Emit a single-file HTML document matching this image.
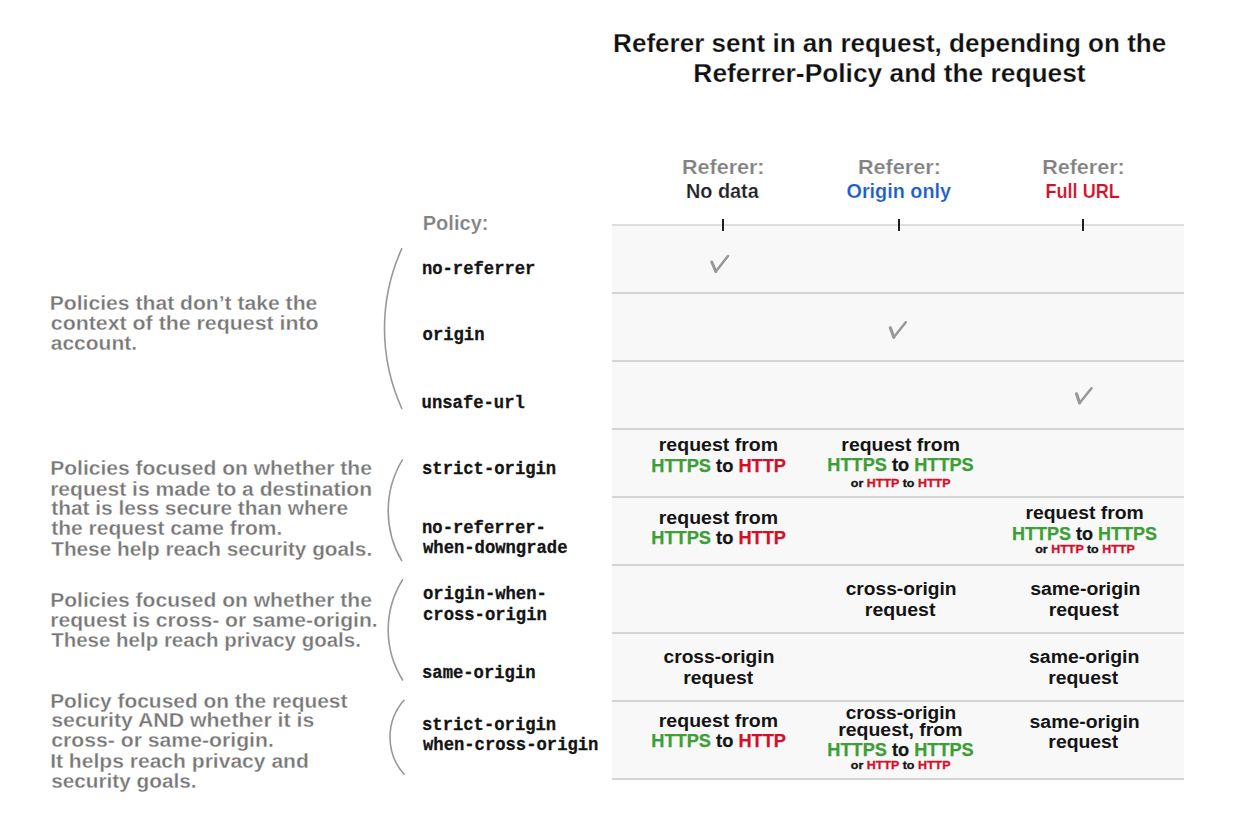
<!DOCTYPE html>
<html><head><meta charset="utf-8"><title>Referrer-Policy</title>
<style>html,body{margin:0;padding:0;background:#fff;overflow:hidden}svg{display:block}</style></head>
<body><svg width="1246" height="836" viewBox="0 0 1246 836">
<rect width="1246" height="836" fill="#ffffff"/>
<rect x="612" y="224" width="572" height="556" fill="#f8f8f8"/>
<rect x="612" y="224" width="572" height="2" fill="#dedede"/>
<rect x="612" y="292" width="572" height="2" fill="#d4d4d4"/>
<rect x="612" y="360" width="572" height="2" fill="#d4d4d4"/>
<rect x="612" y="428" width="572" height="2" fill="#d4d4d4"/>
<rect x="612" y="496" width="572" height="2" fill="#d4d4d4"/>
<rect x="612" y="564" width="572" height="2" fill="#d4d4d4"/>
<rect x="612" y="632" width="572" height="2" fill="#d4d4d4"/>
<rect x="612" y="700" width="572" height="2" fill="#d4d4d4"/>
<rect x="612" y="778" width="572" height="2" fill="#d4d4d4"/>
<rect x="722" y="219" width="2" height="12" fill="#202020"/>
<rect x="898" y="219" width="2" height="12" fill="#202020"/>
<rect x="1082" y="219" width="2" height="12" fill="#202020"/>
<path d="M402.00 248.20 A193.44 193.44 0 0 0 402.00 409.00" fill="none" stroke="#999999" stroke-width="1.6"/>
<path d="M402.70 459.30 A98.82 98.82 0 0 0 402.00 561.20" fill="none" stroke="#999999" stroke-width="1.6"/>
<path d="M402.90 579.20 A94.61 94.61 0 0 0 402.90 680.50" fill="none" stroke="#999999" stroke-width="1.6"/>
<path d="M404.40 699.70 A56.03 56.03 0 0 0 404.40 774.70" fill="none" stroke="#999999" stroke-width="1.6"/>
<path d="M711.8 262.0 L715.8 271.5" fill="none" stroke="#979797" stroke-width="3.1" stroke-linecap="round"/><path d="M715.8 271.5 L728.0 256.0" fill="none" stroke="#979797" stroke-width="2.5" stroke-linecap="round"/>
<path d="M890.3 327.8 L893.8 337.3" fill="none" stroke="#979797" stroke-width="3.1" stroke-linecap="round"/><path d="M893.8 337.3 L905.8 322.2" fill="none" stroke="#979797" stroke-width="2.5" stroke-linecap="round"/>
<path d="M1076.5 393.8 L1079.6 403.0" fill="none" stroke="#979797" stroke-width="3.1" stroke-linecap="round"/><path d="M1079.6 403.0 L1091.5 388.3" fill="none" stroke="#979797" stroke-width="2.5" stroke-linecap="round"/>
<text x="613.10" y="51.70" font-family="'Liberation Sans', sans-serif" font-weight="bold" font-size="26" textLength="553.16" lengthAdjust="spacingAndGlyphs" stroke="#ffffff" stroke-width="0.25"><tspan fill="#101010">Referer sent in an request, depending on the</tspan></text>
<text x="693.39" y="81.50" font-family="'Liberation Sans', sans-serif" font-weight="bold" font-size="26" textLength="392.27" lengthAdjust="spacingAndGlyphs" stroke="#ffffff" stroke-width="0.25"><tspan fill="#101010">Referrer-Policy and the request</tspan></text>
<text x="681.97" y="173.60" font-family="'Liberation Sans', sans-serif" font-weight="bold" font-size="21" textLength="82.57" lengthAdjust="spacingAndGlyphs" stroke="#ffffff" stroke-width="0.2"><tspan fill="#828282">Referer:</tspan></text>
<text x="685.95" y="197.70" font-family="'Liberation Sans', sans-serif" font-weight="bold" font-size="21" textLength="72.84" lengthAdjust="spacingAndGlyphs" stroke="#ffffff" stroke-width="0.2"><tspan fill="#222222">No data</tspan></text>
<text x="857.97" y="173.60" font-family="'Liberation Sans', sans-serif" font-weight="bold" font-size="21" textLength="82.88" lengthAdjust="spacingAndGlyphs" stroke="#ffffff" stroke-width="0.2"><tspan fill="#828282">Referer:</tspan></text>
<text x="846.50" y="197.80" font-family="'Liberation Sans', sans-serif" font-weight="bold" font-size="21" textLength="104.50" lengthAdjust="spacingAndGlyphs" stroke="#ffffff" stroke-width="0.2"><tspan fill="#1b5ccc">Origin only</tspan></text>
<text x="1042.17" y="173.60" font-family="'Liberation Sans', sans-serif" font-weight="bold" font-size="21" textLength="82.57" lengthAdjust="spacingAndGlyphs" stroke="#ffffff" stroke-width="0.2"><tspan fill="#828282">Referer:</tspan></text>
<text x="1045.44" y="197.70" font-family="'Liberation Sans', sans-serif" font-weight="bold" font-size="21" textLength="74.41" lengthAdjust="spacingAndGlyphs" stroke="#ffffff" stroke-width="0.2"><tspan fill="#d3102a">Full URL</tspan></text>
<text x="422.74" y="229.60" font-family="'Liberation Sans', sans-serif" font-weight="bold" font-size="21" textLength="65.76" lengthAdjust="spacingAndGlyphs" stroke="#ffffff" stroke-width="0.2"><tspan fill="#828282">Policy:</tspan></text>
<text x="421.92" y="273.60" font-family="'Liberation Mono', monospace" font-weight="bold" font-size="17.5" textLength="113.51" lengthAdjust="spacingAndGlyphs" stroke="#141414" stroke-width="0.3"><tspan fill="#141414">no-referrer</tspan></text>
<text x="422.60" y="339.50" font-family="'Liberation Mono', monospace" font-weight="bold" font-size="17.5" textLength="61.92" lengthAdjust="spacingAndGlyphs" stroke="#141414" stroke-width="0.3"><tspan fill="#141414">origin</tspan></text>
<text x="421.62" y="407.70" font-family="'Liberation Mono', monospace" font-weight="bold" font-size="17.5" textLength="103.19" lengthAdjust="spacingAndGlyphs" stroke="#141414" stroke-width="0.3"><tspan fill="#141414">unsafe-url</tspan></text>
<text x="422.02" y="473.90" font-family="'Liberation Mono', monospace" font-weight="bold" font-size="17.5" textLength="134.15" lengthAdjust="spacingAndGlyphs" stroke="#141414" stroke-width="0.3"><tspan fill="#141414">strict-origin</tspan></text>
<text x="422.02" y="533.20" font-family="'Liberation Mono', monospace" font-weight="bold" font-size="17.5" textLength="123.83" lengthAdjust="spacingAndGlyphs" stroke="#141414" stroke-width="0.3"><tspan fill="#141414">no-referrer-</tspan></text>
<text x="423.00" y="553.00" font-family="'Liberation Mono', monospace" font-weight="bold" font-size="17.5" textLength="144.47" lengthAdjust="spacingAndGlyphs" stroke="#141414" stroke-width="0.3"><tspan fill="#141414">when-downgrade</tspan></text>
<text x="423.00" y="599.40" font-family="'Liberation Mono', monospace" font-weight="bold" font-size="17.5" textLength="123.83" lengthAdjust="spacingAndGlyphs" stroke="#141414" stroke-width="0.3"><tspan fill="#141414">origin-when-</tspan></text>
<text x="423.00" y="619.80" font-family="'Liberation Mono', monospace" font-weight="bold" font-size="17.5" textLength="123.83" lengthAdjust="spacingAndGlyphs" stroke="#141414" stroke-width="0.3"><tspan fill="#141414">cross-origin</tspan></text>
<text x="422.02" y="678.00" font-family="'Liberation Mono', monospace" font-weight="bold" font-size="17.5" textLength="113.51" lengthAdjust="spacingAndGlyphs" stroke="#141414" stroke-width="0.3"><tspan fill="#141414">same-origin</tspan></text>
<text x="422.02" y="729.70" font-family="'Liberation Mono', monospace" font-weight="bold" font-size="17.5" textLength="134.15" lengthAdjust="spacingAndGlyphs" stroke="#141414" stroke-width="0.3"><tspan fill="#141414">strict-origin</tspan></text>
<text x="423.00" y="750.10" font-family="'Liberation Mono', monospace" font-weight="bold" font-size="17.5" textLength="175.43" lengthAdjust="spacingAndGlyphs" stroke="#141414" stroke-width="0.3"><tspan fill="#141414">when-cross-origin</tspan></text>
<text x="49.77" y="309.80" font-family="'Liberation Sans', sans-serif" font-weight="bold" font-size="20.5" textLength="267.54" lengthAdjust="spacingAndGlyphs" stroke="#ffffff" stroke-width="0.3"><tspan fill="#777777">Policies that don’t take the</tspan></text>
<text x="50.80" y="330.30" font-family="'Liberation Sans', sans-serif" font-weight="bold" font-size="20.5" textLength="267.84" lengthAdjust="spacingAndGlyphs" stroke="#ffffff" stroke-width="0.3"><tspan fill="#777777">context of the request into</tspan></text>
<text x="50.80" y="350.00" font-family="'Liberation Sans', sans-serif" font-weight="bold" font-size="20.5" textLength="86.21" lengthAdjust="spacingAndGlyphs" stroke="#ffffff" stroke-width="0.3"><tspan fill="#777777">account.</tspan></text>
<text x="50.17" y="475.30" font-family="'Liberation Sans', sans-serif" font-weight="bold" font-size="20.5" textLength="321.74" lengthAdjust="spacingAndGlyphs" stroke="#ffffff" stroke-width="0.3"><tspan fill="#777777">Policies focused on whether the</tspan></text>
<text x="50.17" y="495.50" font-family="'Liberation Sans', sans-serif" font-weight="bold" font-size="20.5" textLength="321.86" lengthAdjust="spacingAndGlyphs" stroke="#ffffff" stroke-width="0.3"><tspan fill="#777777">request is made to a destination</tspan></text>
<text x="51.20" y="515.20" font-family="'Liberation Sans', sans-serif" font-weight="bold" font-size="20.5" textLength="296.81" lengthAdjust="spacingAndGlyphs" stroke="#ffffff" stroke-width="0.3"><tspan fill="#777777">that is less secure than where</tspan></text>
<text x="51.20" y="535.10" font-family="'Liberation Sans', sans-serif" font-weight="bold" font-size="20.5" textLength="231.11" lengthAdjust="spacingAndGlyphs" stroke="#ffffff" stroke-width="0.3"><tspan fill="#777777">the request came from.</tspan></text>
<text x="51.20" y="556.20" font-family="'Liberation Sans', sans-serif" font-weight="bold" font-size="20.5" textLength="321.00" lengthAdjust="spacingAndGlyphs" stroke="#ffffff" stroke-width="0.3"><tspan fill="#777777">These help reach security goals.</tspan></text>
<text x="50.17" y="606.90" font-family="'Liberation Sans', sans-serif" font-weight="bold" font-size="20.5" textLength="321.74" lengthAdjust="spacingAndGlyphs" stroke="#ffffff" stroke-width="0.3"><tspan fill="#777777">Policies focused on whether the</tspan></text>
<text x="50.17" y="627.10" font-family="'Liberation Sans', sans-serif" font-weight="bold" font-size="20.5" textLength="327.55" lengthAdjust="spacingAndGlyphs" stroke="#ffffff" stroke-width="0.3"><tspan fill="#777777">request is cross- or same-origin.</tspan></text>
<text x="51.20" y="646.80" font-family="'Liberation Sans', sans-serif" font-weight="bold" font-size="20.5" textLength="309.70" lengthAdjust="spacingAndGlyphs" stroke="#ffffff" stroke-width="0.3"><tspan fill="#777777">These help reach privacy goals.</tspan></text>
<text x="50.18" y="707.50" font-family="'Liberation Sans', sans-serif" font-weight="bold" font-size="20.5" textLength="297.24" lengthAdjust="spacingAndGlyphs" stroke="#ffffff" stroke-width="0.3"><tspan fill="#777777">Policy focused on the request</tspan></text>
<text x="51.20" y="727.10" font-family="'Liberation Sans', sans-serif" font-weight="bold" font-size="20.5" textLength="263.12" lengthAdjust="spacingAndGlyphs" stroke="#ffffff" stroke-width="0.3"><tspan fill="#777777">security AND whether it is</tspan></text>
<text x="51.20" y="747.40" font-family="'Liberation Sans', sans-serif" font-weight="bold" font-size="20.5" textLength="222.62" lengthAdjust="spacingAndGlyphs" stroke="#ffffff" stroke-width="0.3"><tspan fill="#777777">cross- or same-origin.</tspan></text>
<text x="50.17" y="767.90" font-family="'Liberation Sans', sans-serif" font-weight="bold" font-size="20.5" textLength="258.66" lengthAdjust="spacingAndGlyphs" stroke="#ffffff" stroke-width="0.3"><tspan fill="#777777">It helps reach privacy and</tspan></text>
<text x="51.20" y="787.50" font-family="'Liberation Sans', sans-serif" font-weight="bold" font-size="20.5" textLength="145.40" lengthAdjust="spacingAndGlyphs" stroke="#ffffff" stroke-width="0.3"><tspan fill="#777777">security goals.</tspan></text>
<text x="658.79" y="451.20" font-family="'Liberation Sans', sans-serif" font-weight="bold" font-size="17.5" textLength="119.24" lengthAdjust="spacingAndGlyphs"><tspan fill="#141414">request from</tspan></text>
<text x="651.21" y="471.70" font-family="'Liberation Sans', sans-serif" font-weight="bold" font-size="18.5" textLength="134.82" lengthAdjust="spacingAndGlyphs" stroke-width="0.25"><tspan fill="#3c9f36" stroke="#3c9f36">HTTPS</tspan><tspan fill="#141414" stroke="#141414"> to </tspan><tspan fill="#d3102a" stroke="#d3102a">HTTP</tspan></text>
<text x="841.39" y="451.20" font-family="'Liberation Sans', sans-serif" font-weight="bold" font-size="17.5" textLength="118.53" lengthAdjust="spacingAndGlyphs"><tspan fill="#141414">request from</tspan></text>
<text x="827.32" y="471.30" font-family="'Liberation Sans', sans-serif" font-weight="bold" font-size="18.5" textLength="146.42" lengthAdjust="spacingAndGlyphs" stroke-width="0.25"><tspan fill="#3c9f36" stroke="#3c9f36">HTTPS</tspan><tspan fill="#141414" stroke="#141414"> to </tspan><tspan fill="#3c9f36" stroke="#3c9f36">HTTPS</tspan></text>
<text x="850.80" y="487.40" font-family="'Liberation Sans', sans-serif" font-weight="bold" font-size="11.5" textLength="99.74" lengthAdjust="spacingAndGlyphs" stroke-width="0.3"><tspan fill="#141414" stroke="#141414">or </tspan><tspan fill="#d3102a" stroke="#d3102a">HTTP</tspan><tspan fill="#141414" stroke="#141414"> to </tspan><tspan fill="#d3102a" stroke="#d3102a">HTTP</tspan></text>
<text x="658.79" y="523.50" font-family="'Liberation Sans', sans-serif" font-weight="bold" font-size="17.5" textLength="119.24" lengthAdjust="spacingAndGlyphs"><tspan fill="#141414">request from</tspan></text>
<text x="651.21" y="543.60" font-family="'Liberation Sans', sans-serif" font-weight="bold" font-size="18.5" textLength="134.82" lengthAdjust="spacingAndGlyphs" stroke-width="0.25"><tspan fill="#3c9f36" stroke="#3c9f36">HTTPS</tspan><tspan fill="#141414" stroke="#141414"> to </tspan><tspan fill="#d3102a" stroke="#d3102a">HTTP</tspan></text>
<text x="1025.49" y="519.10" font-family="'Liberation Sans', sans-serif" font-weight="bold" font-size="17.5" textLength="118.33" lengthAdjust="spacingAndGlyphs"><tspan fill="#141414">request from</tspan></text>
<text x="1012.03" y="539.60" font-family="'Liberation Sans', sans-serif" font-weight="bold" font-size="18.5" textLength="144.90" lengthAdjust="spacingAndGlyphs" stroke-width="0.25"><tspan fill="#3c9f36" stroke="#3c9f36">HTTPS</tspan><tspan fill="#141414" stroke="#141414"> to </tspan><tspan fill="#3c9f36" stroke="#3c9f36">HTTPS</tspan></text>
<text x="1035.20" y="553.20" font-family="'Liberation Sans', sans-serif" font-weight="bold" font-size="11.5" textLength="99.54" lengthAdjust="spacingAndGlyphs" stroke-width="0.3"><tspan fill="#141414" stroke="#141414">or </tspan><tspan fill="#d3102a" stroke="#d3102a">HTTP</tspan><tspan fill="#141414" stroke="#141414"> to </tspan><tspan fill="#d3102a" stroke="#d3102a">HTTP</tspan></text>
<text x="845.70" y="595.30" font-family="'Liberation Sans', sans-serif" font-weight="bold" font-size="17.5" textLength="110.86" lengthAdjust="spacingAndGlyphs"><tspan fill="#141414">cross-origin</tspan></text>
<text x="864.88" y="616.10" font-family="'Liberation Sans', sans-serif" font-weight="bold" font-size="17.5" textLength="70.52" lengthAdjust="spacingAndGlyphs"><tspan fill="#141414">request</tspan></text>
<text x="1030.20" y="595.30" font-family="'Liberation Sans', sans-serif" font-weight="bold" font-size="17.5" textLength="110.27" lengthAdjust="spacingAndGlyphs"><tspan fill="#141414">same-origin</tspan></text>
<text x="1048.69" y="616.00" font-family="'Liberation Sans', sans-serif" font-weight="bold" font-size="17.5" textLength="70.02" lengthAdjust="spacingAndGlyphs"><tspan fill="#141414">request</tspan></text>
<text x="663.50" y="663.30" font-family="'Liberation Sans', sans-serif" font-weight="bold" font-size="17.5" textLength="110.86" lengthAdjust="spacingAndGlyphs"><tspan fill="#141414">cross-origin</tspan></text>
<text x="683.19" y="684.10" font-family="'Liberation Sans', sans-serif" font-weight="bold" font-size="17.5" textLength="70.02" lengthAdjust="spacingAndGlyphs"><tspan fill="#141414">request</tspan></text>
<text x="1029.00" y="663.30" font-family="'Liberation Sans', sans-serif" font-weight="bold" font-size="17.5" textLength="110.37" lengthAdjust="spacingAndGlyphs"><tspan fill="#141414">same-origin</tspan></text>
<text x="1048.19" y="684.00" font-family="'Liberation Sans', sans-serif" font-weight="bold" font-size="17.5" textLength="70.02" lengthAdjust="spacingAndGlyphs"><tspan fill="#141414">request</tspan></text>
<text x="658.79" y="726.80" font-family="'Liberation Sans', sans-serif" font-weight="bold" font-size="17.5" textLength="119.24" lengthAdjust="spacingAndGlyphs"><tspan fill="#141414">request from</tspan></text>
<text x="651.21" y="747.40" font-family="'Liberation Sans', sans-serif" font-weight="bold" font-size="18.5" textLength="134.82" lengthAdjust="spacingAndGlyphs" stroke-width="0.25"><tspan fill="#3c9f36" stroke="#3c9f36">HTTPS</tspan><tspan fill="#141414" stroke="#141414"> to </tspan><tspan fill="#d3102a" stroke="#d3102a">HTTP</tspan></text>
<text x="845.70" y="719.30" font-family="'Liberation Sans', sans-serif" font-weight="bold" font-size="17.5" textLength="110.45" lengthAdjust="spacingAndGlyphs"><tspan fill="#141414">cross-origin</tspan></text>
<text x="838.19" y="735.90" font-family="'Liberation Sans', sans-serif" font-weight="bold" font-size="17.5" textLength="124.23" lengthAdjust="spacingAndGlyphs"><tspan fill="#141414">request, from</tspan></text>
<text x="827.32" y="755.50" font-family="'Liberation Sans', sans-serif" font-weight="bold" font-size="18.5" textLength="146.42" lengthAdjust="spacingAndGlyphs" stroke-width="0.25"><tspan fill="#3c9f36" stroke="#3c9f36">HTTPS</tspan><tspan fill="#141414" stroke="#141414"> to </tspan><tspan fill="#3c9f36" stroke="#3c9f36">HTTPS</tspan></text>
<text x="850.80" y="769.30" font-family="'Liberation Sans', sans-serif" font-weight="bold" font-size="11.5" textLength="99.74" lengthAdjust="spacingAndGlyphs" stroke-width="0.3"><tspan fill="#141414" stroke="#141414">or </tspan><tspan fill="#d3102a" stroke="#d3102a">HTTP</tspan><tspan fill="#141414" stroke="#141414"> to </tspan><tspan fill="#d3102a" stroke="#d3102a">HTTP</tspan></text>
<text x="1029.50" y="727.50" font-family="'Liberation Sans', sans-serif" font-weight="bold" font-size="17.5" textLength="110.27" lengthAdjust="spacingAndGlyphs"><tspan fill="#141414">same-origin</tspan></text>
<text x="1048.39" y="748.30" font-family="'Liberation Sans', sans-serif" font-weight="bold" font-size="17.5" textLength="69.92" lengthAdjust="spacingAndGlyphs"><tspan fill="#141414">request</tspan></text>
</svg></body></html>
